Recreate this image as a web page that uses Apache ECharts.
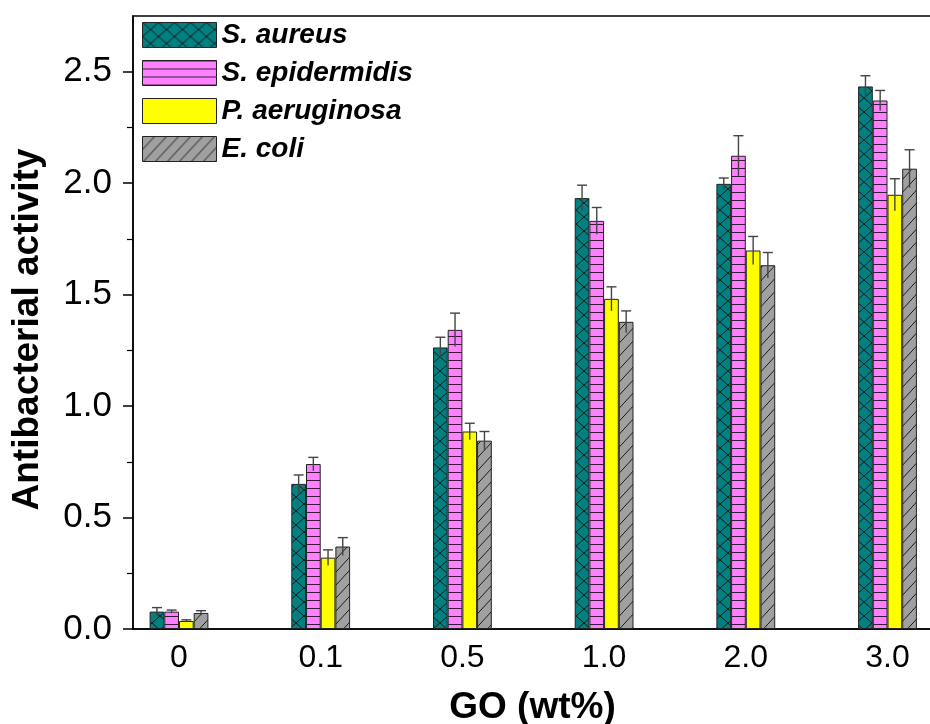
<!DOCTYPE html>
<html><head><meta charset="utf-8">
<script src="https://cdn.jsdelivr.net/npm/echarts@6/dist/echarts.min.js"></script>
<style>html,body{margin:0;padding:0;background:#fff}#c{width:930px;height:724px}</style>
</head><body><div id="c"></div>
<script>
// ---- data ----
const categories = ['0', '0.1', '0.5', '1.0', '2.0', '3.0'];
const seriesNames = ['S. aureus', 'S. epidermidis', 'P. aeruginosa', 'E. coli'];
const sAureus      = [0.078, 0.651, 1.263, 1.933, 1.997, 2.434];
const sAureusErr   = [0.018, 0.040, 0.046, 0.058, 0.026, 0.048];
const sEpidermidis    = [0.078, 0.740, 1.342, 1.831, 2.123, 2.371];
const sEpidermidisErr = [0.007, 0.030, 0.075, 0.060, 0.090, 0.045];
const pAeruginosa    = [0.036, 0.320, 0.886, 1.481, 1.698, 1.948];
const pAeruginosaErr = [0.005, 0.035, 0.037, 0.054, 0.063, 0.072];
const eColi    = [0.072, 0.370, 0.845, 1.378, 1.632, 2.065];
const eColiErr = [0.010, 0.040, 0.041, 0.049, 0.057, 0.085];
const yTickValues = [0, 0.5, 1.0, 1.5, 2.0, 2.5];

const values = [sAureus, sEpidermidis, pAeruginosa, eColi];
const errors = [sAureusErr, sEpidermidisErr, pAeruginosaErr, eColiErr];

// ---- styles ----
const FONT = '"Liberation Sans", Arial, sans-serif';
const BAR_W = 14.7;
function makePattern(w, h, bg, draw) {
  const c = document.createElement('canvas');
  c.width = w; c.height = h;
  const g = c.getContext('2d');
  g.fillStyle = bg; g.fillRect(0, 0, w, h);
  g.strokeStyle = '#1a1a1a'; g.lineWidth = 1;
  draw(g, w, h);
  return { image: c, repeat: 'repeat' };
}
const fills = [
  makePattern(16, 14, '#008080', (g, w, h) => {
    g.beginPath(); g.moveTo(0, 0); g.lineTo(w, h); g.moveTo(w, 0); g.lineTo(0, h); g.stroke();
  }),
  makePattern(8, 8, '#ff80ff', (g, w, h) => {
    g.strokeStyle = '#3a1a3a';
    g.beginPath(); g.moveTo(0, 0.5); g.lineTo(w, 0.5); g.stroke();
  }),
  '#ffff00',
  makePattern(12, 13, '#a0a0a0', (g, w, h) => {
    g.beginPath(); g.moveTo(0, h); g.lineTo(w, 0);
    g.moveTo(-2, 2); g.lineTo(2, -2); g.moveTo(w - 2, h + 2); g.lineTo(w + 2, h - 2); g.stroke();
  })
];

const series = [];
values.forEach((vals, si) => {
  series.push({
    name: seriesNames[si], type: 'bar',
    barWidth: BAR_W, barGap: '0%',
    data: vals.map((v, i) => [i, v]),
    itemStyle: { color: fills[si], borderColor: '#222', borderWidth: 1 },
    z: 2
  });
});
values.forEach((vals, si) => {
  series.push({
    name: seriesNames[si] + ' err', type: 'custom',
    data: vals.map((v, i) => [i, v, errors[si][i]]),
    encode: { x: 0, y: 1 },
    z: 5, silent: true,
    renderItem: function (params, api) {
      const x = api.value(0), v = api.value(1), e = api.value(2);
      const off = (si - 1.5) * BAR_W;
      const top = api.coord([x, v + e]);
      const bot = api.coord([x, v - e]);
      const cx = top[0] + off;
      const style = { stroke: '#444', lineWidth: 1.4, fill: null };
      return {
        type: 'group',
        children: [
          { type: 'line', shape: { x1: cx, y1: top[1], x2: cx, y2: bot[1] }, style },
          { type: 'line', shape: { x1: cx - 5, y1: top[1], x2: cx + 5, y2: top[1] }, style }
        ]
      };
    }
  });
});

const chart = echarts.init(document.getElementById('c'), null, { renderer: 'canvas' });
chart.setOption({
  animation: false,
  backgroundColor: '#fff',
  textStyle: { fontFamily: FONT },
  grid: { left: 133, top: 16, right: -2, bottom: 95, show: true, borderColor: '#000', borderWidth: 1.5, backgroundColor: 'transparent', containLabel: false, outerBoundsMode: 'none' },
  legend: {
    data: seriesNames, orient: 'vertical', left: 137, top: 16,
    icon: 'rect',
    itemWidth: 74, itemHeight: 25, itemGap: 10,
    textStyle: { fontSize: 28, fontWeight: 'bold', fontStyle: 'italic', color: '#000', fontFamily: FONT },
    itemStyle: { borderColor: '#222', borderWidth: 1 }
  },
  xAxis: {
    type: 'value', min: -0.3246, max: 5.314,
    name: 'GO (wt%)', nameLocation: 'middle', nameGap: 60,
    nameTextStyle: { fontSize: 37, fontWeight: 'bold', color: '#000', fontFamily: FONT },
    axisLine: { show: true, onZero: false, lineStyle: { color: '#000', width: 1.5 } },
    axisTick: { show: false },
    splitLine: { show: false },
    axisLabel: {
      customValues: [0, 1, 2, 3, 4, 5],
      formatter: v => categories[Math.round(v)],
      fontSize: 32, color: '#000', margin: 13, fontFamily: FONT
    }
  },
  yAxis: {
    type: 'value', min: 0, max: 2.75, interval: 0.5,
    name: 'Antibacterial activity', nameLocation: 'middle', nameGap: 87,
    nameTextStyle: { fontSize: 37, fontWeight: 'bold', color: '#000', fontFamily: FONT, padding: [0, 14, 0, 0] },
    axisLine: { show: true, onZero: false, lineStyle: { color: '#000', width: 1.5 } },
    axisTick: { show: true, length: 10, inside: false, lineStyle: { color: '#000', width: 1.5 }, customValues: yTickValues },
    minorTick: { show: true, splitNumber: 2, length: 6, lineStyle: { color: '#000', width: 1.2 } },
    splitLine: { show: false },
    axisLabel: {
      customValues: yTickValues,
      formatter: v => v.toFixed(1),
      fontSize: 35, color: '#000', margin: 21, fontFamily: FONT
    }
  },
  series
});
</script>
</body></html>
